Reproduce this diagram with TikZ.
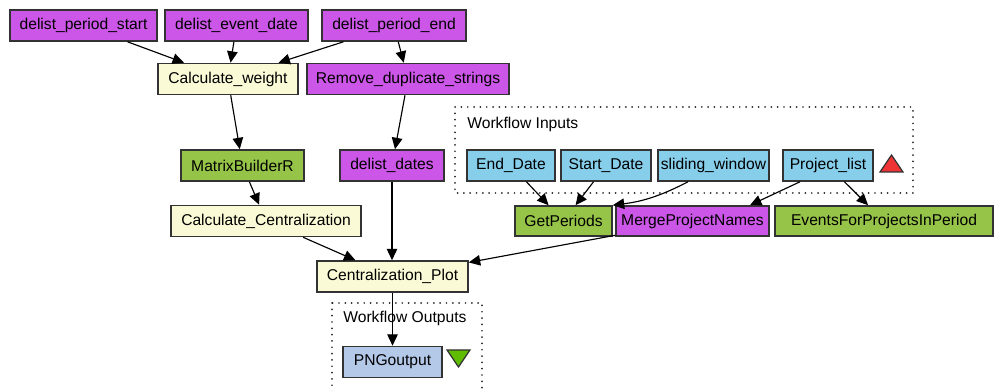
\documentclass[tikz,border=0pt]{standalone}
\usepackage{fontspec}
\setmainfont{Liberation Sans}
\usetikzlibrary{arrows.meta}

\definecolor{tpurple}{RGB}{204,86,232}
\definecolor{tgreen}{RGB}{150,196,72}
\definecolor{tyellow}{RGB}{250,250,214}
\definecolor{tblue}{RGB}{135,206,235}
\definecolor{tsteel}{RGB}{180,200,232}
\definecolor{tred}{RGB}{238,52,52}
\definecolor{tlime}{RGB}{96,188,0}
\newcommand*{\colStr}{tpurple}
\newcommand*{\colR}{tgreen}
\newcommand*{\colBsh}{tyellow}
\newcommand*{\colIn}{tblue}
\newcommand*{\colOut}{tsteel}
\newcommand*{\boxH}{0.62cm}

\tikzset{
    proc/.style={rectangle, draw=black!80, line width=0.9pt, inner sep=0pt,
        minimum height=\boxH, font=\fontsize{8.9}{10}\selectfont},
    edge/.style={draw, line width=0.65pt, -{Triangle[length=6.5pt,width=6pt]}},
    grpbox/.style={draw=black!85, line width=1.1pt, line cap=round, dash pattern=on 0pt off 3.6pt},
    grplabel/.style={anchor=west, inner sep=0pt, font=\fontsize{8.9}{10}\selectfont},
}

\begin{document}
\begin{tikzpicture}[x=0.02cm, y=-0.02cm]

    \useasboundingbox (0,0) rectangle (994,391);

    % workflow groups
    \draw [grpbox] (455,107) rectangle (913,193);
    \node [grplabel] (inlabel) at (467,124) {Workflow Inputs};
    \draw [grpbox] (332,303) rectangle (482,400);
    \node [grplabel] (outlabel) at (343,318) {Workflow Outputs};

    % top row
    \node [proc, fill=\colStr, minimum width=2.94cm] (pstart) at (83.5,25.5) {delist\_period\_start};
    \node [proc, fill=\colStr, minimum width=2.86cm] (evdate) at (236.5,25.5) {delist\_event\_date};
    \node [proc, fill=\colStr, minimum width=2.88cm] (pend) at (394,25.5) {delist\_period\_end};

    \node [proc, fill=\colBsh, minimum width=2.8cm] (calcw) at (228,79) {Calculate\_weight};
    \node [proc, fill=\colStr, minimum width=4.04cm] (remdup) at (408,79) {Remove\_duplicate\_strings};

    \node [proc, fill=\colR, minimum width=2.46cm] (matrix) at (242.5,165.5) {MatrixBuilderR};
    \node [proc, fill=\colStr, minimum width=2.08cm] (ddates) at (392,165.5) {delist\_dates};

    % inputs
    \node [proc, fill=\colIn, minimum width=1.76cm] (enddate) at (511,165.5) {End\_Date};
    \node [proc, fill=\colIn, minimum width=1.8cm] (startdate) at (606,165.5) {Start\_Date};
    \node [proc, fill=\colIn, minimum width=2.22cm] (slide) at (713.5,165.5) {sliding\_window};
    \node [proc, fill=\colIn, minimum width=1.8cm] (projlist) at (828,165.5) {Project\_list};
    \draw [fill=tred, draw=black!80, line width=0.7pt] (880,172) -- (903,172) -- (891.5,155) -- cycle;

    \node [proc, fill=\colR, minimum width=1.94cm, minimum height=0.6cm] (getper) at (563.5,221) {GetPeriods};
    \node [proc, fill=\colStr, minimum width=3.06cm, minimum height=0.6cm] (merge) at (692.5,221) {MergeProjectNames};
    \node [proc, fill=\colR, minimum width=4.36cm, minimum height=0.6cm] (events) at (884,221) {EventsForProjectsInPeriod};

    \node [proc, fill=\colBsh, minimum width=3.8cm] (calccent) at (266,221) {Calculate\_Centralization};
    \node [proc, fill=\colBsh, minimum width=3.02cm] (cplot) at (392.5,276.5) {Centralization\_Plot};

    % outputs
    \node [proc, fill=\colOut, minimum width=1.98cm] (png) at (392.5,362) {PNGoutput};
    \draw [fill=tlime, draw=black!80, line width=0.7pt] (447,350) -- (470,350) -- (458.5,367) -- cycle;

    % links
    \path [edge] (pstart) -- (calcw);
    \path [edge] (evdate) -- (calcw);
    \path [edge] (pend) -- (calcw);
    \path [edge] (pend) -- (remdup);
    \path [edge] (calcw) -- (matrix);
    \path [edge] (remdup) -- (ddates);
    \path [edge] (matrix) -- (calccent);
    \path [edge] (calccent) -- (cplot);
    \path [edge] (ddates.south) -- (ddates.south |- cplot.north);
    \path [edge] (merge) -- (cplot);
    \path [edge] (cplot) -- (png);
    \path [edge] (enddate) -- (getper);
    \path [edge] (startdate) -- (getper);
    \path [edge] ([xshift=-0.51cm]slide.south) to [bend left=10] (getper.north east);
    \path [edge] ([xshift=-0.56cm]projlist.south) -- ([xshift=1.15cm]merge.north);
    \path [edge] (projlist) -- (events);

\end{tikzpicture}
\end{document}
